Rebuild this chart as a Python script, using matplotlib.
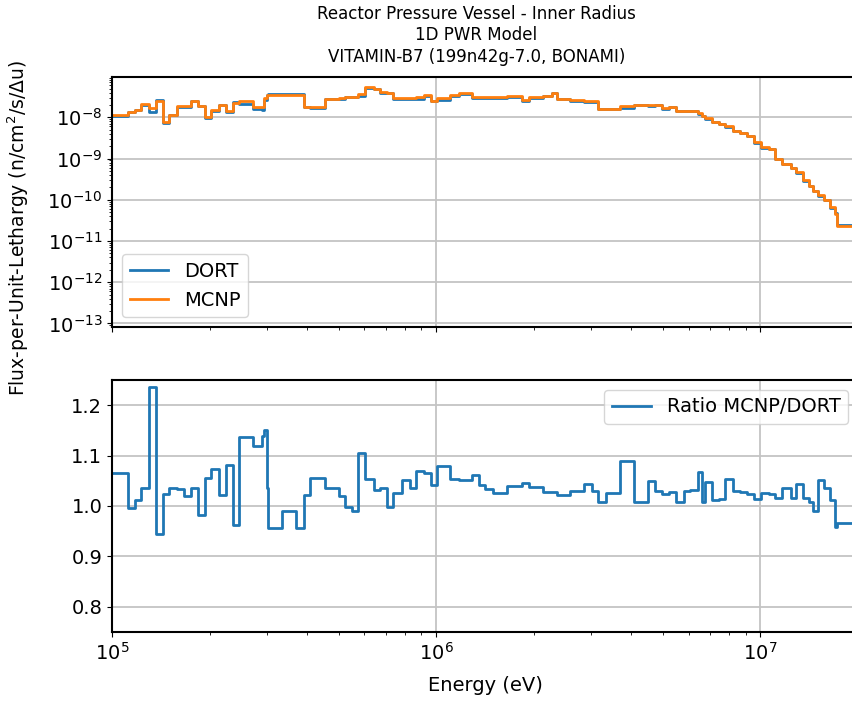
import numpy as np
import matplotlib
matplotlib.use("Agg")
import matplotlib.pyplot as plt
from matplotlib.ticker import MultipleLocator

# Group boundaries (eV)
energy_edges = [
    9.6e4, 1.118e5, 1.178e5, 1.229e5, 1.304e5, 1.364e5, 1.433e5, 1.503e5, 1.583e5, 1.673e5,
    1.753e5, 1.838e5, 1.936e5, 2.021e5, 2.145e5, 2.248e5, 2.357e5, 2.472e5, 2.731e5, 2.897e5,
    2.945e5, 3.002e5, 3.023e5, 3.341e5, 3.698e5, 3.905e5, 4.084e5, 4.522e5, 4.995e5, 5.237e5,
    5.491e5, 5.757e5, 6.04e5, 6.41e5, 6.72e5, 7.04e5, 7.38e5, 7.84e5, 8.27e5, 8.68e5,
    9.14e5, 9.63e5, 1.003e6, 1.105e6, 1.172e6, 1.289e6, 1.351e6, 1.417e6, 1.496e6, 1.653e6,
    1.839e6, 1.927e6, 2.135e6, 2.28e6, 2.358e6, 2.592e6, 2.849e6, 3.03e6, 3.148e6, 3.347e6,
    3.68e6, 4.064e6, 4.489e6, 4.742e6, 4.973e6, 5.212e6, 5.505e6, 5.799e6, 6.081e6, 6.405e6,
    6.607e6, 6.764e6, 7.094e6, 7.435e6, 7.798e6, 8.235e6, 8.675e6, 9.098e6, 9.535e6, 1.005e7,
    1.061e7, 1.105e7, 1.167e7, 1.238e7, 1.291e7, 1.355e7, 1.41e7, 1.455e7, 1.503e7, 1.568e7,
    1.644e7, 1.704e7, 1.725e7, 1.964e7,
]

# MCNP flux-per-unit-lethargy in each group
mcnp_flux = [
    1.12e-8, 1.35e-8, 1.54e-8, 2.11e-8, 1.69e-8, 2.44e-8, 7.6e-9, 1.16e-8, 1.85e-8, 1.85e-8,
    2.54e-8, 1.85e-8, 1.02e-8, 1.5e-8, 2.03e-8, 1.45e-8, 2.23e-8, 2.44e-8, 1.75e-8, 1.75e-8,
    2.95e-8, 3.55e-8, 3.55e-8, 3.55e-8, 3.55e-8, 1.79e-8, 1.79e-8, 2.84e-8, 2.9e-8, 3.1e-8,
    3.05e-8, 3.66e-8, 5.32e-8, 5.0e-8, 4.03e-8, 3.8e-8, 2.88e-8, 2.88e-8, 2.88e-8, 3.05e-8,
    3.47e-8, 2.52e-8, 2.88e-8, 3.47e-8, 3.9e-8, 3.05e-8, 3.05e-8, 3.05e-8, 3.05e-8, 3.2e-8,
    2.67e-8, 3.05e-8, 3.3e-8, 4.0e-8, 2.85e-8, 2.6e-8, 2.5e-8, 2.43e-8, 1.6e-8, 1.6e-8,
    1.85e-8, 2.02e-8, 2.02e-8, 2.02e-8, 1.65e-8, 1.8e-8, 1.45e-8, 1.45e-8, 1.45e-8, 1.3e-8,
    1.1e-8, 9.5e-9, 7.6e-9, 7.0e-9, 6.05e-9, 4.75e-9, 4.18e-9, 3.6e-9, 2.48e-9, 1.88e-9,
    1.71e-9, 9.8e-10, 7.43e-10, 6.0e-10, 4.6e-10, 2.94e-10, 2.14e-10, 1.6e-10, 1.3e-10, 1.0e-10,
    6.5e-11, 4.6e-11, 2.3e-11,
]

# MCNP/DORT ratio in each group
ratio = [
    1.065, 0.995, 1.012, 1.035, 1.237, 0.944, 1.023, 1.036, 1.033, 1.020,
    1.035, 0.983, 1.056, 1.073, 1.022, 1.081, 0.962, 1.136, 1.118, 1.138,
    1.150, 1.035, 0.956, 0.991, 0.956, 1.022, 1.055, 1.036, 1.020, 0.997,
    0.991, 1.105, 1.054, 1.031, 1.035, 0.997, 1.026, 1.051, 1.035, 1.069,
    1.065, 1.041, 1.079, 1.054, 1.051, 1.061, 1.041, 1.033, 1.025, 1.039,
    1.046, 1.038, 1.028, 1.028, 1.022, 1.030, 1.043, 1.030, 1.008, 1.026,
    1.090, 1.008, 1.050, 1.030, 1.024, 1.028, 1.008, 1.030, 1.031, 1.067,
    1.008, 1.048, 1.012, 1.013, 1.054, 1.030, 1.028, 1.024, 1.013, 1.026,
    1.024, 1.015, 1.035, 1.015, 1.043, 1.015, 1.008, 0.991, 1.051, 1.035,
    1.012, 0.958, 0.967,
]

edges = np.array(energy_edges)
mcnp = np.array(mcnp_flux)
rat = np.array(ratio)
dort = mcnp / rat

plt.rcParams["font.size"] = 14

fig = plt.figure(figsize=(8.52, 7.04), dpi=100)
# right edge of the axes runs a little past the figure, as in the reference crop
ax1 = fig.add_axes([0.1315, 0.5355, 0.8756, 0.3551])
ax2 = fig.add_axes([0.1315, 0.1023, 0.8756, 0.3580], sharex=ax1)

ax1.step(edges, np.append(dort, dort[-1]), where="post", color="#1f77b4", lw=2, label="DORT")
ax1.step(edges, np.append(mcnp, mcnp[-1]), where="post", color="#ff7f0e", lw=2, label="MCNP")
ax1.set_xscale("log")
ax1.set_yscale("log")
ax1.set_ylim(8.2e-14, 9.5e-8)
ax1.grid(True, color="#c4c4c4", lw=1.3)
ax1.legend(loc="lower left", fontsize=14)
ax1.tick_params(labelbottom=False)

ax2.step(edges, np.append(rat, rat[-1]), where="post", color="#1f77b4", lw=2, label="Ratio MCNP/DORT")
ax2.set_xlim(1e5, 2e7)
ax2.set_ylim(0.75, 1.25)
ax2.yaxis.set_major_locator(MultipleLocator(0.1))
ax2.grid(True, color="#c4c4c4", lw=1.3)
ax2.legend(loc="upper right", fontsize=14)
ax2.set_xlabel("Energy (eV)", labelpad=9)

for ax in (ax1, ax2):
    for s in ax.spines.values():
        s.set_linewidth(1.5)

fig.text(0.021, 0.676, "Flux-per-Unit-Lethargy (n/cm$^2$/s/\u0394u)",
         rotation=90, ha="center", va="center", fontsize=13.5)
fig.text(0.559, 0.993,
         "Reactor Pressure Vessel - Inner Radius\n1D PWR Model\nVITAMIN-B7 (199n42g-7.0, BONAMI)",
         ha="center", va="top", fontsize=12, linespacing=1.25)

fig.savefig("out.png", dpi=100)
